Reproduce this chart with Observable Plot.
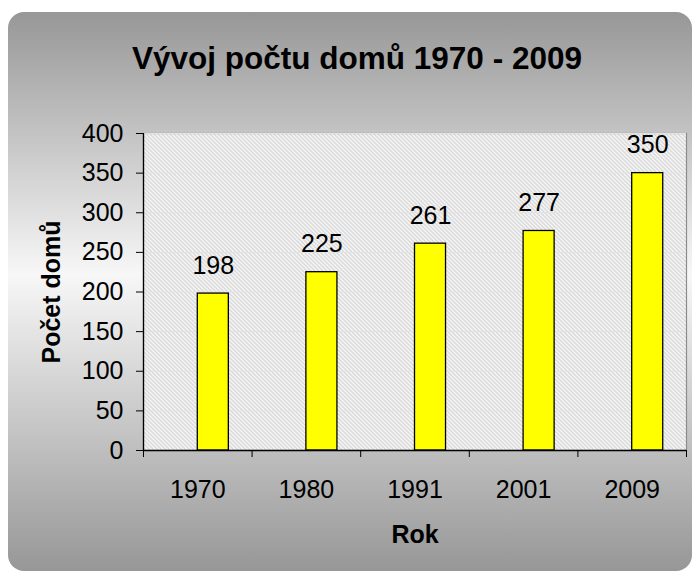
<!DOCTYPE html>
<html>
<head>
<meta charset="utf-8">
<script src="https://cdn.jsdelivr.net/npm/d3@7"></script>
<script src="https://cdn.jsdelivr.net/npm/@observablehq/plot@0.6"></script>
<style>
  html, body { margin: 0; padding: 0; background: #ffffff; }
  #chart svg { display: block; }
</style>
</head>
<body>
<div id="chart"></div>
<script>
// ---- data ----
const years = ["1970", "1980", "1991", "2001", "2009"];
const houses = [198, 225, 261, 277, 350];
const yTicks = [0, 50, 100, 150, 200, 250, 300, 350, 400];
const title = "Vývoj počtu domů 1970 - 2009";
const xTitle = "Rok";
const yTitle = "Počet domů";

// Excel-like clustered layout: 2 series slots, gap width 150% -> each slot = 1/3.5 of category
const slot = 1 / 3.5;
const data = years.map((year, i) => ({ year, value: houses[i], i }));
const boundaries = d3.range(years.length + 1);
const centers = years.map((_, i) => i + 0.5);

const font = "'Liberation Sans', Arial, sans-serif";

const chart = Plot.plot({
  width: 693,
  height: 572,
  marginLeft: 143,
  marginRight: 7,
  marginTop: 133,
  marginBottom: 122,
  style: { fontFamily: font, fontSize: "25px", color: "#000", background: "transparent", overflow: "visible" },
  x: { type: "linear", domain: [0, years.length] },
  y: { domain: [0, 400] },
  marks: [
    Plot.frame({ fill: "url(#hatch)", stroke: "#8c8c8c", strokeWidth: 1.2 }),
    Plot.ruleY(yTicks.slice(1), { stroke: "#e2e2e2", strokeWidth: 1 }),
    Plot.rectY(data, {
      x1: d => d.i + 0.5,
      x2: d => d.i + 0.5 + slot,
      y: "value",
      fill: "#ffff00",
      stroke: "#000",
      strokeWidth: 1.3
    }),
    Plot.text(data, {
      x: d => d.i + 0.5 + slot / 2,
      y: "value",
      text: d => String(d.value),
      lineAnchor: "bottom",
      dy: -20,
      fontSize: 25,
      fill: "#000"
    }),
    Plot.ruleY([0], { stroke: "#000", strokeWidth: 1.3 }),
    Plot.ruleX([0], { stroke: "#000", strokeWidth: 1.3 }),
    Plot.axisY({ ticks: yTicks, tickSize: 7, tickPadding: 13, label: null, fontSize: 25, tickFormat: d => String(d) }),
    Plot.axisX({ ticks: boundaries, tickSize: 7, tickFormat: () => "", label: null }),
    Plot.axisX({ ticks: centers, tickSize: 0, tickPadding: 30, tickFormat: v => years[Math.floor(v)], label: null, fontSize: 25 }),
    Plot.text([xTitle], { frameAnchor: "bottom", lineAnchor: "bottom", textAnchor: "middle", dy: 92, fontWeight: "bold", fontSize: 25, fill: "#000" }),
    Plot.text([yTitle], { frameAnchor: "left", rotate: -90, lineAnchor: "bottom", textAnchor: "middle", dx: -84, fontWeight: "bold", fontSize: 25, fill: "#000" }),
    Plot.text([title], {
      frameAnchor: "top", lineAnchor: "bottom", textAnchor: "middle", dy: -65, dx: -58,
      fontWeight: "bold", fontSize: 31.5, fill: "#000"
    })
  ]
});

// background panel, gradient and hatch pattern
const svg = d3.select(chart);
const defs = svg.insert("defs", ":first-child");
const grad = defs.append("linearGradient").attr("id", "bgGrad").attr("x1", 0).attr("y1", 0).attr("x2", 0).attr("y2", 1);
grad.append("stop").attr("offset", "0%").attr("stop-color", "#979797");
grad.append("stop").attr("offset", "47%").attr("stop-color", "#f7f7f7");
grad.append("stop").attr("offset", "100%").attr("stop-color", "#979797");
const pat = defs.append("pattern").attr("id", "hatch").attr("patternUnits", "userSpaceOnUse").attr("width", 4).attr("height", 4);
pat.append("rect").attr("width", 4).attr("height", 4).attr("fill", "#ffffff");
pat.append("path").attr("d", "M-1,-1L5,5M3,-1L5,1M-1,3L1,5").attr("stroke", "#c2c2c2").attr("stroke-width", 1.1);
svg.insert("rect", "defs + *")
  .attr("x", 8).attr("y", 12).attr("width", 684).attr("height", 559)
  .attr("rx", 16).attr("ry", 16)
  .attr("fill", "url(#bgGrad)");

document.getElementById("chart").appendChild(chart);
</script>
</body>
</html>
